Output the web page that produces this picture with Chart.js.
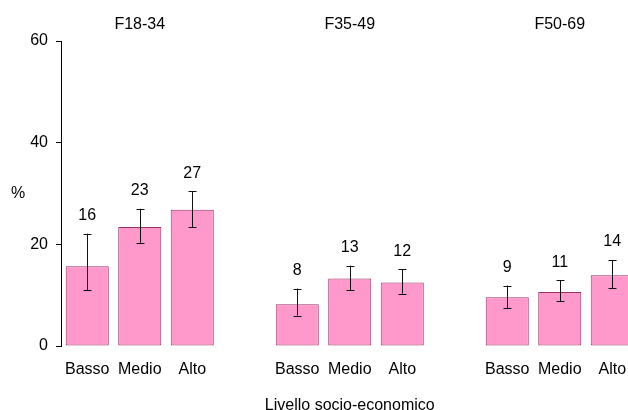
<!DOCTYPE html>
<html>
<head>
<meta charset="utf-8">
<script src="https://cdn.jsdelivr.net/npm/chart.js@4/dist/chart.umd.min.js"></script>
<style>
  html, body { margin: 0; padding: 0; background: #fff; width: 628px; height: 410px; overflow: hidden; }
  #chart { position: absolute; left: 0; top: 0; }
</style>
</head>
<body>
<canvas id="chart" width="640" height="410"></canvas>
<script>
// data
const groups = ['F18-34', 'F35-49', 'F50-69'];
const levels = ['Basso', 'Medio', 'Alto'];
const values = [15.7, 23.4, 26.8, 8.2, 13.3, 12.5, 9.6, 10.6, 13.9];
const valueLabels = ['16', '23', '27', '8', '13', '12', '9', '11', '14'];
const lower = [11.0, 20.3, 23.4, 6.0, 11.0, 10.3, 7.5, 8.8, 11.4];
const upper = [22.1, 27.0, 30.4, 11.3, 15.8, 15.1, 11.9, 12.9, 16.9];
const yTicks = [0, 20, 40, 60];

const FONT = "'Liberation Sans', Arial, sans-serif";

// categories with an empty slot between groups
const cats = [], data = [], lo = [], hi = [], lbl = [], groupMid = [];
groups.forEach((g, gi) => {
    if (gi > 0) { cats.push(''); data.push(null); lo.push(null); hi.push(null); lbl.push(null); }
    levels.forEach((lv, li) => {
        const k = gi * levels.length + li;
        if (li === 1) groupMid.push(cats.length);
        cats.push(lv);
        data.push(values[k]);
        lo.push(lower[k]);
        hi.push(upper[k]);
        lbl.push(valueLabels[k]);
    });
});

const extras = {
    id: 'extras',
    afterDatasetsDraw(chart) {
        const ctx = chart.ctx;
        const x = chart.scales.x, y = chart.scales.y;
        ctx.save();
        // error bars
        ctx.strokeStyle = '#111';
        ctx.lineWidth = 1;
        cats.forEach((c, i) => {
            if (data[i] == null) return;
            const px = Math.round(x.getPixelForValue(i)) + 0.5;
            const yl = y.getPixelForValue(lo[i]), yh = y.getPixelForValue(hi[i]);
            ctx.beginPath();
            ctx.moveTo(px, yl); ctx.lineTo(px, yh);
            ctx.moveTo(px - 4, Math.round(yl) + 0.5); ctx.lineTo(px + 4, Math.round(yl) + 0.5);
            ctx.moveTo(px - 4, Math.round(yh) + 0.5); ctx.lineTo(px + 4, Math.round(yh) + 0.5);
            ctx.stroke();
        });
        // value labels
        ctx.fillStyle = '#000';
        ctx.font = '16px ' + FONT;
        ctx.textAlign = 'center';
        ctx.textBaseline = 'middle';
        cats.forEach((c, i) => {
            if (data[i] == null) return;
            ctx.fillText(lbl[i], x.getPixelForValue(i), y.getPixelForValue(hi[i]) - 18);
        });
        // group titles
        groups.forEach((g, gi) => {
            ctx.fillText(g, x.getPixelForValue(groupMid[gi]), 25);
        });
        // y title, not rotated
        ctx.fillText('%', 18, (y.top + y.bottom) / 2);
        ctx.restore();
    }
};

new Chart(document.getElementById('chart'), {
    type: 'bar',
    data: {
        labels: cats,
        datasets: [{
            data: data,
            backgroundColor: '#ff99cc',
            borderColor: '#993366',
            borderWidth: 1,
            borderSkipped: false,
            categoryPercentage: 0.82,
            barPercentage: 1
        }]
    },
    options: {
        responsive: false,
        animation: false,
        layout: { padding: { left: 0, right: 1.5, top: 41, bottom: 0 } },
        plugins: { legend: { display: false }, tooltip: { enabled: false } },
        scales: {
            x: {
                grid: { display: false },
                border: { display: false },
                ticks: { color: '#000', font: { size: 16, family: FONT }, padding: 6, maxRotation: 0, autoSkip: false },
                title: { display: true, text: 'Livello socio-economico', color: '#000', font: { size: 16, family: FONT, lineHeight: 0.6 }, padding: 0 },
                afterFit: s => { s.height = 64; }
            },
            y: {
                min: 0, max: 60,
                afterBuildTicks: s => { s.ticks = yTicks.map(v => ({ value: v })); },
                grid: { drawOnChartArea: false, drawTicks: true, tickLength: 5, tickColor: '#000' },
                border: { display: true, color: '#000' },
                ticks: { color: '#000', font: { size: 16, family: FONT }, padding: 8 },
                afterFit: s => { s.width = 61; }
            }
        }
    },
    plugins: [extras]
});
</script>
</body>
</html>
